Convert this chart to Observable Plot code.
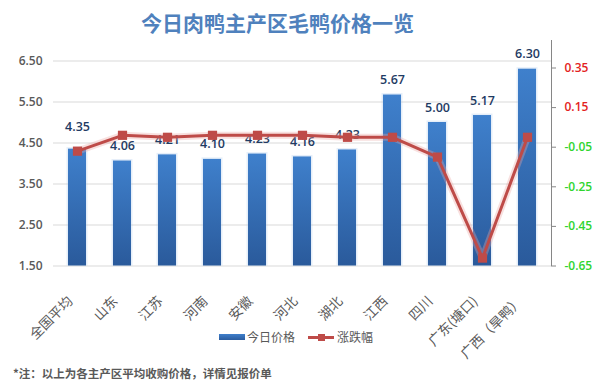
<!DOCTYPE html>
<html>
<head>
<meta charset="utf-8">
<script src="https://cdn.jsdelivr.net/npm/d3@7"></script>
<script src="https://cdn.jsdelivr.net/npm/@observablehq/plot@0.6"></script>
<style>
  html, body { margin: 0; padding: 0; background: #fff; }
  #wrap { position: relative; width: 596px; height: 389px; overflow: hidden; font-family: "Noto Sans CJK SC", "Noto Sans", sans-serif; }
  #chart { position: absolute; left: 0; top: 0; }
  .abs { position: absolute; white-space: nowrap; }
  #title { left: 141px; top: 8px; font-size: 21px; font-weight: 700; color: #4f81bd; line-height: 28px; letter-spacing: 0px; }
  #foot { left: 13px; top: 364px; font-size: 11.5px; font-weight: 700; color: #595959; line-height: 18px; }
  .legtext { font-size: 12px; color: #595959; line-height: 16px; top: 329px; }
</style>
</head>
<body>
<div id="wrap">
  <div id="chart"></div>
  <div id="title" class="abs">今日肉鸭主产区毛鸭价格一览</div>
  <div class="abs" style="left:219px; top:334px; width:26px; height:6px; background:linear-gradient(#3f7fcb,#2b5c9e);"></div>
  <div class="abs legtext" style="left:247px;">今日价格</div>
  <div class="abs" style="left:308px; top:336px; width:26px; height:2.5px; background:#be4b48;"></div>
  <div class="abs" style="left:318px; top:334px; width:7px; height:7px; background:#be4b48;"></div>
  <div class="abs legtext" style="left:337px;">涨跌幅</div>
  <div id="foot" class="abs">*注：以上为各主产区平均收购价格，详情见报价单</div>
</div>
<script>
// ---- data ----
const regions = ["全国平均", "山东", "江苏", "河南", "安徽", "河北", "湖北", "江西", "四川", "广东(塘口)", "广西（旱鸭）"];
const prices = [4.35, 4.06, 4.21, 4.10, 4.23, 4.16, 4.33, 5.67, 5.00, 5.17, 6.30];
const changes = [-0.07, 0.01, 0.00, 0.01, 0.01, 0.01, 0.00, 0.00, -0.10, -0.61, 0.00];
const leftTicks = [1.5, 2.5, 3.5, 4.5, 5.5, 6.5];
const rightTicks = [0.35, 0.15, -0.05, -0.25, -0.45, -0.65];

// ---- dual-axis mapping (right axis values -> left scale units) ----
const leftDomain = [1.5, 7.0];
const rightMin = -0.65;
const K = 198 / 41; // left units per right unit
const toLeft = v => leftDomain[0] + (v - rightMin) * K;

const rows = regions.map((r, i) => ({region: r, price: prices[i], change: changes[i], i}));

const numFont = "'Open Sans', 'DejaVu Sans', sans-serif";
const cjkFont = "'Noto Sans CJK SC', sans-serif";

const plot = Plot.plot({
  width: 596,
  height: 389,
  marginTop: 40,
  marginBottom: 123.5,
  marginLeft: 53,
  marginRight: 45,
  style: {fontFamily: numFont, background: "transparent"},
  x: {domain: regions, paddingInner: 0.6, paddingOuter: 0.3, axis: null},
  y: {domain: leftDomain},
  marks: [
    Plot.gridY(leftTicks, {stroke: "#d9d9d9", strokeOpacity: 1, strokeWidth: 1}),
    Plot.axisY(leftTicks, {anchor: "left", tickSize: 0, tickPadding: 11, tickFormat: d => d.toFixed(2), fontSize: 12, fontWeight: 600, color: "#595959", label: null, fontFamily: numFont}),
    Plot.axisY(rightTicks.map(toLeft), {anchor: "right", tickSize: 4, tickFormat: () => "", stroke: "#868686", label: null}),
    Plot.frame({anchor: "right", stroke: "#868686"}),
    Plot.text(rightTicks.filter(d => d > 0), {y: toLeft, text: d => d.toFixed(2), frameAnchor: "right", dx: 13, textAnchor: "start", fill: "#e32222", fontSize: 12, fontWeight: 600, fontFamily: numFont}),
    Plot.text(rightTicks.filter(d => d <= 0), {y: toLeft, text: d => d.toFixed(2), frameAnchor: "right", dx: 13, textAnchor: "start", fill: "#2fd52f", fontSize: 12, fontWeight: 600, fontFamily: numFont}),
    Plot.barY(rows, {x: "region", y1: 1.5, y2: "price", fill: "#a9c7ec", fillOpacity: 0.3, insetLeft: -1.5, insetRight: -1.5, insetTop: -1.5}),
    Plot.barY(rows, {x: "region", y1: 1.5, y2: "price", fill: "url(#barGrad)"}),
    Plot.text(rows.filter(d => d.i === 0), {x: "region", y: "price", text: d => d.price.toFixed(2), dy: -22, fill: "#1f3b63", fontSize: 12.5, fontWeight: 600, fontFamily: numFont}),
    Plot.text(rows.filter(d => d.i !== 0), {x: "region", y: "price", text: d => d.price.toFixed(2), dy: -15, fill: "#1f3b63", fontSize: 12.5, fontWeight: 600, fontFamily: numFont}),
    Plot.line(rows, {x: "region", y: d => toLeft(d.change), stroke: "#eaa5a3", strokeWidth: 7, strokeOpacity: 0.35, strokeLinejoin: "round"}),
    Plot.line(rows, {x: "region", y: d => toLeft(d.change), stroke: "#be4b48", strokeWidth: 3, strokeLinejoin: "round"}),
    Plot.dot(rows, {x: "region", y: d => toLeft(d.change), symbol: "square", r: 5.2, fill: "#be4b48", stroke: "none"}),
    Plot.text(rows, {x: "region", text: "region", frameAnchor: "bottom", rotate: -45, textAnchor: "end", lineAnchor: "middle", dy: 33, dx: -7, fontSize: 13.5, fill: "#595959", fontFamily: cjkFont})
  ]
});

const svg = d3.select(plot);
svg.insert("defs", ":first-child").html(
  '<linearGradient id="barGrad" x1="0" y1="0" x2="0" y2="1">' +
  '<stop offset="0" stop-color="#3f80cc"/>' +
  '<stop offset="1" stop-color="#2a5a9b"/>' +
  '</linearGradient>'
);
document.getElementById("chart").appendChild(plot);
</script>
</body>
</html>
